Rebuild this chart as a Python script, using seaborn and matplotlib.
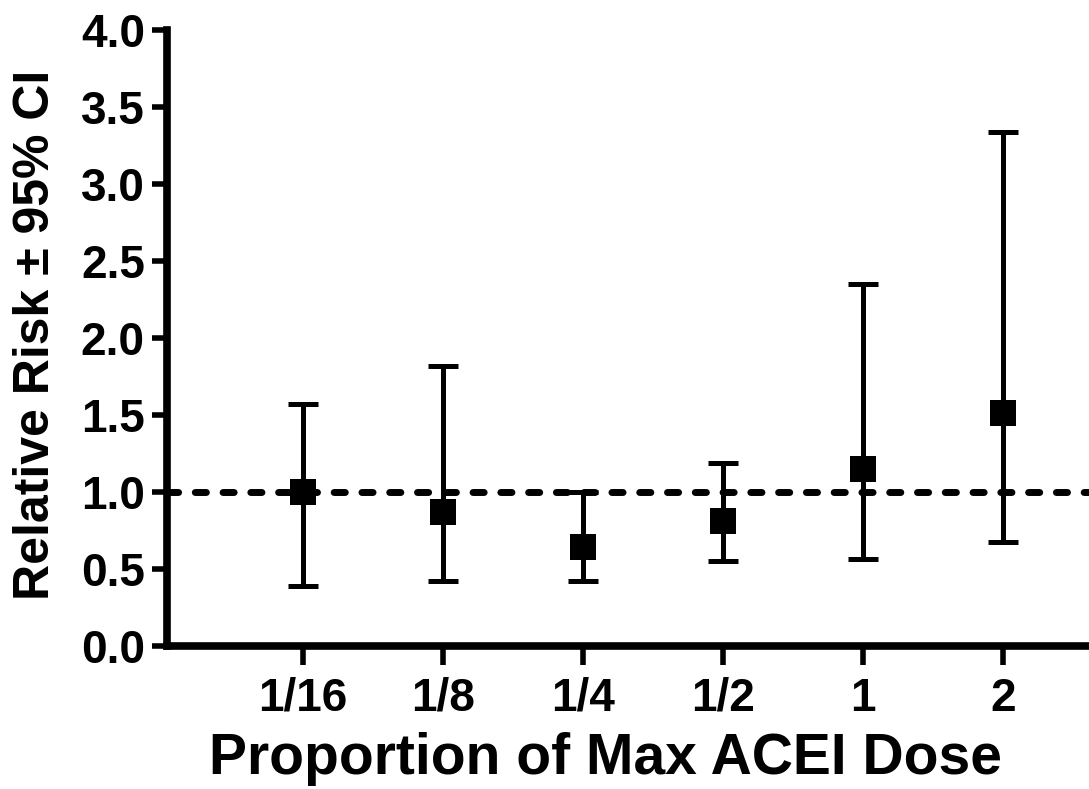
import matplotlib
matplotlib.use("Agg")
import matplotlib.pyplot as plt
import seaborn as sns
import numpy as np
import pandas as pd

doses = ["1/16", "1/8", "1/4", "1/2", "1", "2"]
relative_risk = [1.00, 0.87, 0.64, 0.81, 1.15, 1.51]
ci_lower = [0.39, 0.42, 0.42, 0.55, 0.565, 0.675]
ci_upper = [1.57, 1.82, 1.00, 1.19, 2.35, 3.34]
y_ticks = [0.0, 0.5, 1.0, 1.5, 2.0, 2.5, 3.0, 3.5, 4.0]

sns.set_theme(style="white")
plt.rcParams["font.family"] = ["Liberation Sans", "DejaVu Sans"]
plt.rcParams["font.weight"] = "bold"
plt.rcParams["text.color"] = "black"
plt.rcParams["axes.labelcolor"] = "black"
plt.rcParams["xtick.color"] = "black"
plt.rcParams["ytick.color"] = "black"

df = pd.DataFrame({"dose": doses, "rr": relative_risk,
                   "lo": ci_lower, "hi": ci_upper})

fig = plt.figure(figsize=(10.89, 7.89), dpi=100)
ax = fig.add_axes([0.1534, 0.1812, 0.8466, 0.7808])

# reference line at RR = 1
ax.axhline(1.0, color="black", lw=5.0, linestyle=(0, (1.6, 2.4)),
           dash_capstyle="round", zorder=1)

# 95% CI whiskers
xpos = np.arange(len(df))
ax.errorbar(xpos, df["rr"],
            yerr=[df["rr"] - df["lo"], df["hi"] - df["rr"]],
            fmt="none", ecolor="black", elinewidth=3.6, capsize=11,
            capthick=3.6, zorder=2)

# point estimates
sns.scatterplot(data=df, x="dose", y="rr", marker="s", s=330,
                color="black", edgecolor="black", linewidth=0,
                ax=ax, zorder=3, legend=False)

ax.set_xlim(-0.971, 5.614)
ax.set_ylim(0, 4.0)
ax.set_yticks(y_ticks)
ax.set_yticklabels([f"{t:.1f}" for t in y_ticks])
ax.set_xticks(xpos)
ax.set_xticklabels(doses)

for side in ["top", "right"]:
    ax.spines[side].set_visible(False)
for side in ["left", "bottom"]:
    ax.spines[side].set_linewidth(5.5)
    ax.spines[side].set_color("black")
    ax.spines[side].set_capstyle("projecting")

ax.tick_params(axis="y", which="major", direction="out", length=11, width=4,
               colors="black", labelsize=33, pad=5, left=True)
ax.tick_params(axis="x", which="major", direction="out", length=14, width=4,
               colors="black", labelsize=33, pad=8, bottom=True)
for lab in ax.get_xticklabels() + ax.get_yticklabels():
    lab.set_fontweight("bold")
    lab.set_color("black")

ax.set_xlabel("Proportion of Max ACEI Dose", fontsize=41, fontweight="bold",
              color="black")
ax.xaxis.set_label_coords((605 - 167) / (1089 - 167), -0.14)
ax.set_ylabel("Relative Risk \u00b1 95% CI", fontsize=36, fontweight="bold",
              color="black")
ax.yaxis.set_label_coords(-0.117, 0.505)
ax.grid(False)

fig.savefig("out.png", dpi=100, facecolor="white")
